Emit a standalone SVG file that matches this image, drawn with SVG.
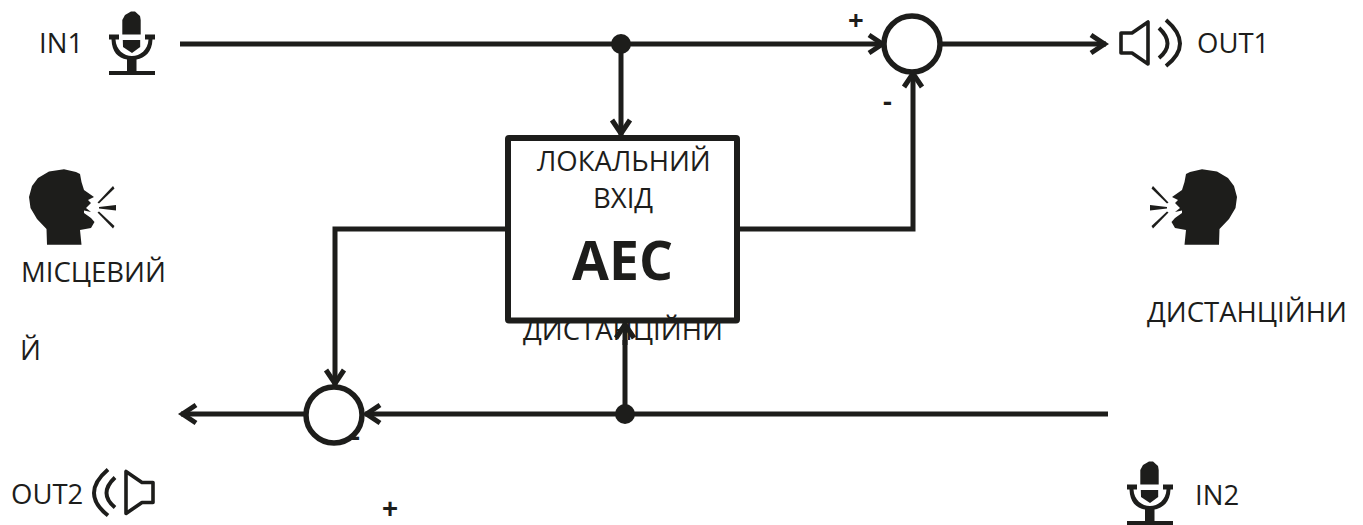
<svg xmlns="http://www.w3.org/2000/svg" width="1363" height="525" viewBox="0 0 1363 525">
<style>
text{font-family:"Open Sans","Noto Sans",sans-serif;font-size:27.500px;fill:#1d1d1b}
.b{font-weight:700}
.w{fill:none;stroke:#1d1d1b;stroke-width:5}
.a{marker-end:url(#arrow)}
.s{fill:#fff;stroke:#1d1d1b;stroke-width:5.500}
.d{fill:#1d1d1b}
.sp{fill:none;stroke:#1d1d1b;stroke-width:3.600;stroke-linejoin:round}
.sa{fill:none;stroke:#1d1d1b;stroke-width:4}
</style>
<defs>
<marker id="arrow" markerUnits="userSpaceOnUse" markerWidth="24" markerHeight="26" refX="20" refY="13" orient="auto" overflow="visible">
<path d="M5 4L18.500 13L5 22" fill="none" stroke="#1d1d1b" stroke-width="5"/>
</marker>
<g id="mic">
<path class="d" d="M122.300 34.500V20L125 15L131 11.500L135 11.500L140 16L140.700 20V34.500Z"/>
<path class="d" d="M122.800 40H140.200V47L132 53L123 47Z"/>
<path class="d" d="M109 34.500H119V39.500H115.500C116 50 124 56 132 56C140 56 148 50 148.500 39.500H145V34.500H155V39.500H152.500C152 52 145 58 136.500 59.500V71H155V75H109V71H127V59.500C118 58 112 52 111.500 39.500H109Z"/>
</g>
<g id="speaker">
<path class="sp" d="M1121 33H1132L1148 22V64L1132 53H1121Z"/>
<path class="sa" d="M1159 28Q1176 44 1159 58"/>
<path class="sa" d="M1166 20Q1194 44 1166 66"/>
</g>
<g id="head">
<path class="d" d="M1172 197L1182 190L1184.500 182L1186 174L1190 172L1202 169.300L1217 171.500L1228 178L1234 186L1237 197L1235.500 208L1229 219L1219.500 229L1219 244.700H1184.500L1186 230L1175 228L1171.500 222L1175 218L1182 213L1182 210.500L1175 212L1180 208L1175 203L1178 200Z"/>
<path class="d" d="M1168.500 202.500L1153 186L1151.500 188.500L1167 203.500Z"/>
<path class="d" d="M1167 207V208.500L1150 210.500V205Z"/>
<path class="d" d="M1168.500 212.500L1153 228.500L1151.500 226L1167 211.500Z"/>
</g>
</defs>
<g id="connectors">
<path class="w" d="M180 44H621"/>
<path class="w a" d="M621 44H884"/>
<path class="w a" d="M621 44V135"/>
<path class="w a" d="M940 44H1106"/>
<path class="w a" d="M740 229H913V72"/>
<path class="w a" d="M505 229H335V385"/>
<path class="w a" d="M1108 414H365"/>
<path class="w a" d="M306 414H181"/>
<path class="w" d="M625 414V340"/>
</g>
<g id="label-in1"><text x="39" y="53">IN1</text></g>
<g id="mic-in1"><use href="#mic"/></g>
<g id="speaker-out1"><use href="#speaker"/></g>
<g id="label-out1"><text x="1197" y="53">OUT1</text></g>
<g id="person-left"><use href="#head" transform="translate(1266 0) scale(-1 1)"/></g>
<g id="label-local"><text x="21" y="282">МІСЦЕВИЙ</text><text x="20" y="360">Й</text></g>
<g id="person-right"><use href="#head"/></g>
<g id="label-remote"><text x="1147" y="322">ДИСТАНЦІЙНИ</text></g>
<g id="aec">
<rect x="508" y="138" width="229" height="182.500" rx="1" fill="#fff" stroke="#1d1d1b" stroke-width="6"/>
<text x="537" y="171">ЛОКАЛЬНИЙ</text>
<text x="593" y="208">ВХІД</text>
<text class="b" x="572" y="280" style="font-size:53.500px">AEC</text>
<text x="523" y="340">ДИСТАНЦІЙНИ</text>
</g>
<g id="arrow-up-aec"><path class="w a" d="M625 345V323"/></g>
<g id="junction-top"><circle class="d" cx="621" cy="44" r="10"/></g>
<g id="junction-bottom"><circle class="d" cx="625" cy="414" r="10"/></g>
<g id="sum-top"><circle class="s" cx="912" cy="44" r="28"/></g>
<g id="sum-bottom"><text class="b" x="351" y="446">-</text><circle class="s" cx="334" cy="415" r="28"/></g>
<g id="sign-plus-top"><text class="b" x="848" y="30">+</text></g>
<g id="sign-minus-top"><text class="b" x="883" y="111">-</text></g>
<g id="sign-plus-bottom"><text class="b" x="382" y="518" style="font-family:'Liberation Sans',sans-serif">+</text></g>
<g id="speaker-out2"><use href="#speaker" transform="translate(1274 449.500) scale(-1 1)"/></g>
<g id="label-out2"><text x="11" y="504">OUT2</text></g>
<g id="mic-in2"><use href="#mic" transform="translate(1018 450)"/></g>
<g id="label-in2"><text x="1195" y="505">IN2</text></g>
</svg>
